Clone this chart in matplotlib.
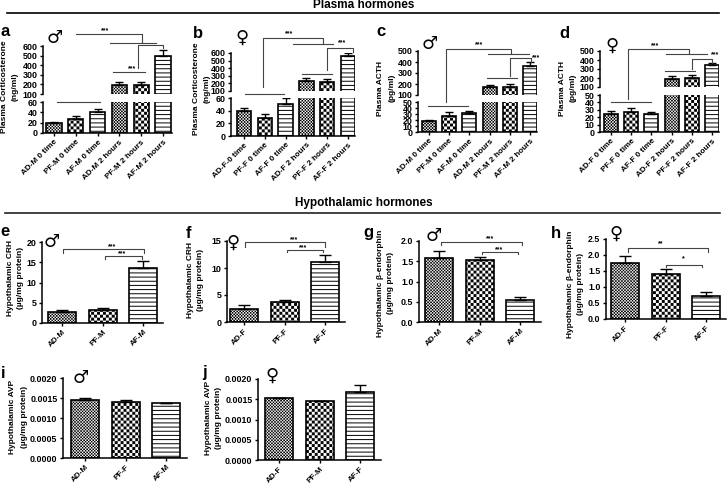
import matplotlib
matplotlib.use('Agg')
import matplotlib.pyplot as plt
import matplotlib.hatch as mhatch
import numpy as np

plt.rcParams['font.family'] = ['Liberation Sans', 'DejaVu Sans']
plt.rcParams['font.weight'] = 'bold'
plt.rcParams['hatch.linewidth'] = 0.7

W, H = 727, 483


# checker pattern for the bars: 'o' fine, 'O' coarse
class CheckerHatch(mhatch.HatchPatternBase):
    def __init__(self, hatch, density):
        self.n = 33 if 'o' in hatch else (17 if 'O' in hatch else 0)
        self.num_vertices = 5 * self.n * self.n * 2
        self.filled = True

    def set_vertices_and_codes(self, vertices, codes):
        n = self.n
        s = 0.5 / n
        # hatch stroke adds about half a pixel all round
        g = 0.005
        k = 0
        for i in range(n):
            for j in range(n):
                for ox in (0, s):
                    x = i / n + ox
                    y = j / n + ox
                    vertices[k:k + 5] = [[x + g, y + g], [x + s - g, y + g], [x + s - g, y + s - g],
                                         [x + g, y + s - g], [x + g, y + g]]
                    codes[k:k + 5] = [1, 2, 2, 2, 79]
                    k += 5


mhatch._hatch_types[:] = [c for c in mhatch._hatch_types
                          if c not in (mhatch.SmallCircles, mhatch.LargeCircles)] + [CheckerHatch]

fine = 'o'
coarse = 'O'
lines = '----'
six_hatch = [fine, coarse, lines, fine, coarse, lines]
three_hatch = [fine, coarse, lines]

# plasma panels
a_labels = ['AD-M 0 time', 'PF-M 0 time', 'AF-M 0 time', 'AD-M 2 hours', 'PF-M 2 hours', 'AF-M 2 hours']
a_values = [20, 27, 41, 195, 195, 500]
a_err = [1, 6, 6, 35, 35, 60]
b_labels = ['AD-F-0 time', 'PF-F 0 time', 'AF-F 0 time', 'AD-F 2 hours', 'PF-F 2 hours', 'AF-F 2 hours']
b_values = [39, 29, 50, 230, 225, 565]
b_err = [5, 6, 10, 35, 30, 35]
c_labels = ['AD-M 0 time', 'PF-M 0 time', 'AF-M 0 time', 'AD-M 2 hours', 'PF-M 2 hours', 'AF-M 2 hours']
c_values = [19, 27, 32, 170, 172, 360]
c_err = [1, 7, 3, 25, 28, 40]
d_labels = ['AD-F 0 time', 'PF-F 0 time', 'AF-F 0 time', 'AD-F 2 hours', 'PF-F 2 hours', 'AF-F 2 hours']
d_values = [24, 27, 24, 190, 205, 350]
d_err = [4, 6, 3, 30, 25, 20]

# hypothalamic panels
e_labels = ['AD-M', 'PF-M', 'AF-M']
e_values = [2.6, 3.3, 13.5]
e_err = [0.7, 0.3, 1.9]
f_labels = ['AD-F', 'PF-F', 'AF-F']
f_values = [2.5, 3.7, 11.2]
f_err = [0.6, 0.4, 1.2]
g_labels = ['AD-M', 'PF-M', 'AF-M']
g_values = [1.57, 1.54, 0.54]
g_err = [0.18, 0.07, 0.08]
h_labels = ['AD-F', 'PF-F', 'AF-F']
h_values = [1.75, 1.42, 0.72]
h_err = [0.22, 0.15, 0.13]
i_labels = ['AD-M', 'PF-F', 'AF-M']
i_values = [0.00145, 0.00140, 0.00137]
i_err = [0.00005, 0.00004, 0.00001]
j_labels = ['AD-F', 'PF-M', 'AF-F']
j_values = [0.00153, 0.00146, 0.00168]
j_err = [0.0, 0.0, 0.00016]

fig = plt.figure(figsize=(W / 100, H / 100), dpi=100)

# full figure layer in image pixels, for titles, brackets, letters
over = fig.add_axes([0, 0, 1, 1], zorder=10)
over.set_xlim(0, W)
over.set_ylim(H, 0)
over.axis('off')
over.patch.set_alpha(0)


def make_axes(left, right, top, bottom, c0, step):
    ax = fig.add_axes([left / W, 1 - bottom / H, (right - left) / W, (bottom - top) / H])
    ax.set_xlim((left - c0) / step, (right - c0) / step)
    ax.spines['top'].set_visible(False)
    ax.spines['right'].set_visible(False)
    ax.spines['left'].set_linewidth(1.1)
    ax.spines['bottom'].set_linewidth(1.1)
    ax.tick_params(width=1.0, length=2.5, pad=1.5, labelsize=6.4)
    ax.patch.set_alpha(0)
    return ax


def draw_bars(ax, values, err, hatches, width, cap):
    x = np.arange(len(values))
    ax.bar(x, values, width=width, color='white', edgecolor='black', linewidth=1.2, hatch=hatches)
    ax.errorbar(x, values, yerr=[np.zeros(len(err)), err], fmt='none', ecolor='black',
                elinewidth=1.0, capsize=cap, capthick=1.0)


def broken_panel(box, step_px, c0, labels, values, err, low, high):
    left, right, top, mid_top, mid_bot, bottom = box
    up = make_axes(left, right, top, mid_top, c0, step_px)
    up.set_ylim(high[0], high[-1])
    up.set_yticks(high)
    up.spines['bottom'].set_visible(False)
    up.set_xticks([])
    draw_bars(up, values, err, six_hatch, 0.69, 3)
    lo = make_axes(left, right, mid_bot, bottom, c0, step_px)
    lo.set_ylim(low[0], low[-1])
    lo.set_yticks(low)
    draw_bars(lo, values, err, six_hatch, 0.69, 3)
    lo.set_xticks(np.arange(6))
    lo.set_xticklabels(labels, rotation=45, ha='right', rotation_mode='anchor', fontsize=5.9)


def simple_panel(box, c0, step_px, labels, values, err, ticks, fmt):
    left, right, top, bottom = box
    ax = make_axes(left, right, top, bottom, c0, step_px)
    ax.set_ylim(ticks[0], ticks[-1])
    ax.set_yticks(ticks)
    ax.set_yticklabels([fmt % t for t in ticks])
    draw_bars(ax, values, err, three_hatch, 0.69, 4.5)
    ax.set_xticks(np.arange(3))
    ax.set_xticklabels(labels, rotation=45, ha='right', rotation_mode='anchor', fontsize=5.9)


broken_panel((43, 172, 46, 94, 102, 133), 21.8, 54, a_labels, a_values, a_err,
             [0, 20, 40, 60], [100, 200, 300, 400, 500, 600])
broken_panel((231, 355, 53, 91, 98, 136), 20.8, 244, b_labels, b_values, b_err,
             [0, 20, 40, 60], [100, 200, 300, 400, 500, 600])
broken_panel((418, 537, 51, 95, 102, 132), 20.2, 429, c_labels, c_values, c_err,
             [0, 10, 20, 30, 40, 50], [100, 200, 300, 400, 500])
broken_panel((600, 719, 51, 87, 95, 132), 20.2, 611, d_labels, d_values, d_err,
             [0, 10, 20, 30, 40, 50], [100, 200, 300, 400, 500])

simple_panel((42, 163, 242, 323), 62, 40.6, e_labels, e_values, e_err, [0, 5, 10, 15, 20], '%d')
simple_panel((227, 345, 241, 322), 244, 40.6, f_labels, f_values, f_err, [0, 5, 10, 15], '%d')
simple_panel((419, 541, 241, 322), 439, 40.6, g_labels, g_values, g_err, [0, 0.5, 1.0, 1.5, 2.0], '%.1f')
simple_panel((606, 726, 239, 319), 625, 40.6, h_labels, h_values, h_err, [0, 0.5, 1.0, 1.5, 2.0, 2.5], '%.1f')
simple_panel((63, 187, 378, 458), 85, 40.6, i_labels, i_values, i_err,
             [0, 0.0005, 0.001, 0.0015, 0.002], '%.4f')
simple_panel((258, 381, 379, 460), 279, 40.6, j_labels, j_values, j_err,
             [0, 0.0005, 0.001, 0.0015, 0.002], '%.4f')

# section titles and rules
over.text(364, 5, 'Plasma hormones', ha='center', va='center', fontsize=8.5)
over.text(364, 203, 'Hypothalamic hormones', ha='center', va='center', fontsize=8.5)
over.plot([7, 719], [13, 13], color='black', lw=1.2)
over.plot([5, 720], [213, 213], color='#222222', lw=1.2)

# y labels: name, x of first line, x of second line, y centre
ylabels = [
    ('Plasma Corticosterone', '(ng/ml)', 5, 15, 87),
    ('Plasma Corticosterone', '(ng/ml)', 197, 207, 89),
    ('Plasma ACTH', '(pg/ml)', 381, 392, 88),
    ('Plasma ACTH', '(pg/ml)', 563, 573, 88),
    ('Hypothalamic CRH', '(µg/mg protein)', 11, 21, 278),
    ('Hypothalamic CRH', '(µg/mg protein)', 191, 201, 280),
    ('Hypothalamic β-endorphin', '(µg/mg protein)', 380, 390, 283),
    ('Hypothalamic β-endorphin', '(µg/mg protein)', 570, 580, 284),
    ('Hypothalamic AVP', '(µg/mg protein)', 13, 24, 417),
    ('Hypothalamic AVP', '(µg/mg protein)', 208, 218, 418),
]
for name, unit, x1, x2, y in ylabels:
    over.text(x1, y, name, rotation=90, ha='center', va='center', fontsize=6)
    over.text(x2, y, unit, rotation=90, ha='center', va='center', fontsize=6)

letters = [('a', 5, 31), ('b', 198, 33), ('c', 381, 31), ('d', 564, 33), ('e', 5, 231),
           ('f', 188, 233), ('g', 368, 232), ('h', 556, 233), ('i', 3, 373), ('j', 204, 372)]
for s, x, y in letters:
    over.text(x, y, s, ha='center', va='center', fontsize=12)

male = '\u2642'
female = '\u2640'
sex_marks = [(male, 55, 38), (female, 242, 38), (male, 430, 44), (female, 612, 46), (male, 52, 242),
             (female, 233, 243), (male, 434, 236), (female, 616, 234), (male, 81, 378), (female, 272, 376)]
for s, x, y in sex_marks:
    over.text(x, y, s, ha='center', va='center', fontsize=13, family='DejaVu Sans', fontweight='normal')

# brackets, read in zoomed crop coordinates (crop origin, then 3x pixels)
brackets = [
    (0, 0, [[228, 425, 425], [102, 102, 128]]),
    (0, 0, [[330, 468], [128, 128]]),
    (0, 0, [[415, 415, 488, 488], [205, 134, 134, 145]]),
    (0, 0, [[340, 435], [216, 216]]),
    (0, 0, [[172, 300], [305, 305]]),
    (0, 0, [[788, 788, 968, 968], [260, 113, 113, 133]]),
    (0, 0, [[880, 1000], [133, 133]]),
    (0, 0, [[982, 982, 1060, 1060], [210, 143, 143, 155]]),
    (0, 0, [[905, 995], [223, 223]]),
    (0, 0, [[735, 853], [282, 282]]),
    (364, 0, [[245, 245, 442, 442], [305, 148, 148, 163]]),
    (364, 0, [[372, 495], [163, 163]]),
    (364, 0, [[438, 438, 500, 500], [228, 175, 175, 185]]),
    (364, 0, [[370, 458], [234, 234]]),
    (364, 0, [[193, 312], [319, 319]]),
    (364, 0, [[792, 792, 975, 975], [298, 148, 148, 163]]),
    (364, 0, [[907, 1030], [163, 163]]),
    (364, 0, [[985, 985, 1045, 1045], [208, 176, 176, 190]]),
    (364, 0, [[903, 992], [214, 214]]),
    (364, 0, [[742, 860], [305, 305]]),
    (0, 190, [[190, 190, 432, 432], [188, 176, 176, 188]]),
    (0, 190, [[315, 315, 425, 425], [206, 199, 199, 206]]),
    (0, 190, [[735, 735, 975, 975], [170, 157, 157, 170]]),
    (0, 190, [[860, 860, 968, 968], [186, 180, 180, 186]]),
    (364, 190, [[232, 232, 473, 473], [166, 155, 155, 166]]),
    (364, 190, [[355, 355, 463, 463], [191, 185, 185, 191]]),
    (364, 190, [[792, 792, 1033, 1033], [185, 173, 173, 185]]),
    (364, 190, [[905, 905, 1013, 1013], [231, 224, 224, 231]]),
]
for ox, oy, (xs, ys) in brackets:
    over.plot([ox + v / 3 for v in xs], [oy + v / 3 for v in ys], color='#444444', lw=0.8)

stars = [
    (0, 0, '***', 315, 92), (0, 0, '***', 395, 207), (0, 0, '***', 867, 100), (0, 0, '***', 1027, 127),
    (364, 0, '***', 344, 135), (364, 0, '***', 517, 172), (364, 0, '***', 873, 137), (364, 0, '***', 1053, 165),
    (0, 190, '***', 337, 170), (0, 190, '***', 365, 190), (0, 190, '***', 881, 150), (0, 190, '***', 910, 172),
    (364, 190, '***', 378, 147), (364, 190, '***', 406, 178), (364, 190, '**', 889, 160), (364, 190, '*', 958, 205),
]
for ox, oy, s, x, y in stars:
    over.text(ox + x / 3, oy + y / 3, s, ha='center', va='center', fontsize=5)

fig.savefig('out.png', dpi=100)
